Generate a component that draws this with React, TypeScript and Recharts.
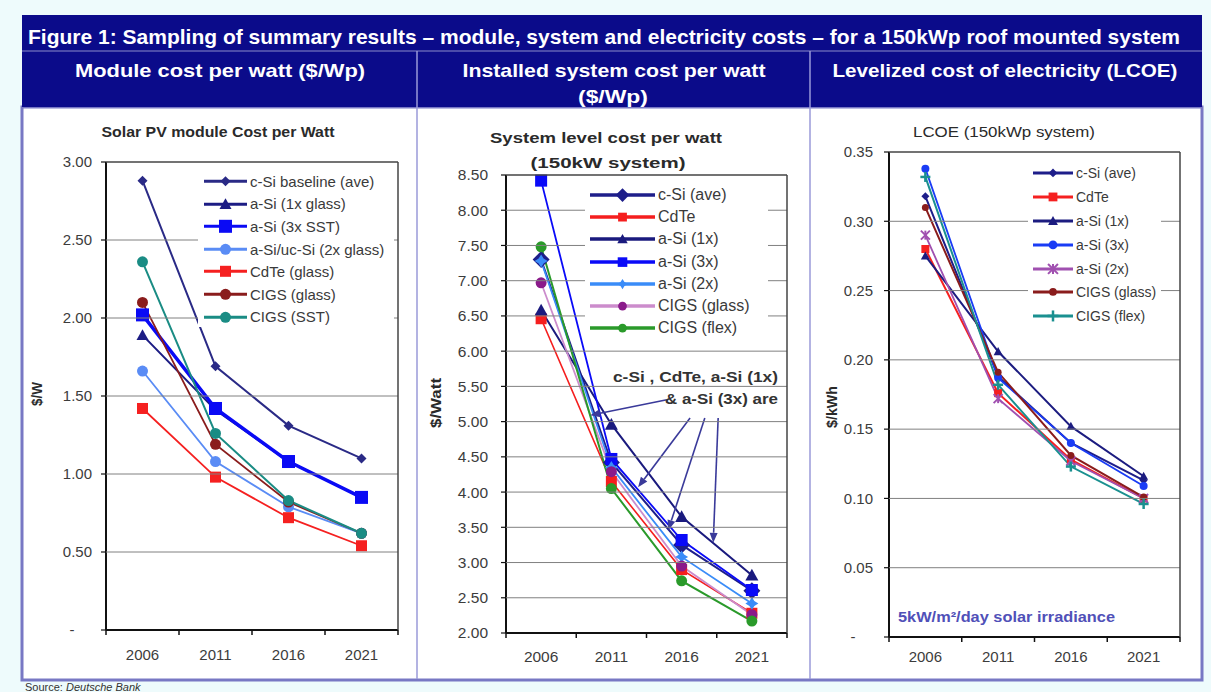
import {
  Legend,
  Line,
  LineChart,
  ReferenceLine,
  XAxis,
  YAxis,
} from 'recharts'

const years = ['2006', '2011', '2016', '2021']
// year slots sit in band centres; the half steps are the band edges
const yearSlots = [-0.5, 0, 0.5, 1, 1.5, 2, 2.5, 3, 3.5]

// Module cost per watt ($/W)
const moduleTicks = [0, 0.5, 1, 1.5, 2, 2.5, 3]
const moduleCSi = [2.88, 1.69, 1.31, 1.1]
const moduleASi1x = [1.89, 1.41, 1.08, 0.85]
const moduleASi3x = [2.02, 1.42, 1.08, 0.85]
const moduleASiUc = [1.66, 1.08, 0.79, 0.62]
const moduleCdTe = [1.42, 0.98, 0.72, 0.54]
const moduleCigsGlass = [2.1, 1.19, 0.82, 0.62]
const moduleCigsSst = [2.36, 1.26, 0.83, 0.62]

// Installed system cost per watt ($/Watt)
const systemTicks = [2, 2.5, 3, 3.5, 4, 4.5, 5, 5.5, 6, 6.5, 7, 7.5, 8, 8.5]
const systemCSi = [7.3, 4.42, 3.25, 2.6]
const systemCdTe = [6.46, 4.15, 2.9, 2.28]
const systemASi1x = [6.58, 4.96, 3.65, 2.82]
const systemASi3x = [8.42, 4.47, 3.32, 2.61]
const systemASi2x = [7.28, 4.35, 3.08, 2.42]
const systemCigsGlass = [6.97, 4.29, 2.95, 2.26]
const systemCigsFlex = [7.48, 4.05, 2.74, 2.17]

// LCOE ($/kWh)
const lcoeTicks = [0, 0.05, 0.1, 0.15, 0.2, 0.25, 0.3, 0.35]
const lcoeCSi = [0.318, 0.188, 0.14, 0.113]
const lcoeCdTe = [0.28, 0.176, 0.128, 0.1]
const lcoeASi1x = [0.275, 0.206, 0.152, 0.116]
const lcoeASi3x = [0.338, 0.187, 0.14, 0.109]
const lcoeASi2x = [0.29, 0.172, 0.127, 0.1]
const lcoeCigsGlass = [0.31, 0.191, 0.131, 0.101]
const lcoeCigsFlex = [0.332, 0.182, 0.123, 0.096]

// callout arrows in the system chart, in axis units (year slot, $/Watt)
const systemArrows = [
  { from: { x: 1.79, y: 5.31 }, to: { x: 0.7, y: 5.09 } },
  { from: { x: 2.12, y: 5.05 }, to: { x: 1.38, y: 4.07 } },
  { from: { x: 2.33, y: 5.05 }, to: { x: 1.81, y: 3.46 } },
  { from: { x: 2.52, y: 5.05 }, to: { x: 2.45, y: 3.28 } },
]

const SANS = '"Liberation Sans", Arial, sans-serif'
const NARROW = '"Liberation Sans Narrow", "Arial Narrow", "Liberation Sans", Arial, sans-serif'
const NAVY = '#0b0b8a'
const GRID = '#808080'
const FRAME = '#444'
const AXIS_W = 50
const AXIS_H = 30

type MarkerKind = 'diamond' | 'square' | 'triangle' | 'circle' | 'star' | 'asterisk' | 'plus'

type Series = {
  key: string
  name: string
  values: number[]
  color: string
  line?: string
  marker: MarkerKind
  size: number
  width: number
}

const moduleSeries: Series[] = [
  { key: 'csi', name: 'c-Si baseline (ave)', values: moduleCSi, color: '#2a2a86', marker: 'diamond', size: 10, width: 2 },
  { key: 'asi1', name: 'a-Si (1x glass)', values: moduleASi1x, color: '#1c1c84', marker: 'triangle', size: 12, width: 2 },
  { key: 'asi3', name: 'a-Si (3x SST)', values: moduleASi3x, color: '#0a0af5', marker: 'square', size: 13, width: 3.5 },
  { key: 'asiuc', name: 'a-Si/uc-Si (2x glass)', values: moduleASiUc, color: '#5a8cf5', marker: 'circle', size: 11, width: 1.8 },
  { key: 'cdte', name: 'CdTe (glass)', values: moduleCdTe, color: '#f52020', marker: 'square', size: 11, width: 1.8 },
  { key: 'cigsg', name: 'CIGS (glass)', values: moduleCigsGlass, color: '#8a1c1c', marker: 'circle', size: 11, width: 1.8 },
  { key: 'cigss', name: 'CIGS (SST)', values: moduleCigsSst, color: '#1a8c84', marker: 'circle', size: 11, width: 2 },
]

const systemSeries: Series[] = [
  { key: 'csi', name: 'c-Si (ave)', values: systemCSi, color: '#1e1e8a', marker: 'diamond', size: 17, width: 2 },
  { key: 'cdte', name: 'CdTe', values: systemCdTe, color: '#f51e1e', marker: 'square', size: 11, width: 1.6 },
  { key: 'asi1', name: 'a-Si (1x)', values: systemASi1x, color: '#1a1a7e', marker: 'triangle', size: 13, width: 2 },
  { key: 'asi3', name: 'a-Si (3x)', values: systemASi3x, color: '#0a0af8', marker: 'square', size: 12, width: 1.8 },
  { key: 'asi2', name: 'a-Si (2x)', values: systemASi2x, color: '#3a8cf8', marker: 'star', size: 13, width: 1.8 },
  { key: 'cigsg', name: 'CIGS (glass)', values: systemCigsGlass, color: '#8a1a8a', line: '#cc8ccc', marker: 'circle', size: 11, width: 1.8 },
  { key: 'cigsf', name: 'CIGS (flex)', values: systemCigsFlex, color: '#2a9a2a', marker: 'circle', size: 11, width: 2 },
]

const lcoeSeries: Series[] = [
  { key: 'csi', name: 'c-Si (ave)', values: lcoeCSi, color: '#1e1e8a', marker: 'diamond', size: 8, width: 2 },
  { key: 'cdte', name: 'CdTe', values: lcoeCdTe, color: '#f52020', marker: 'square', size: 8, width: 2 },
  { key: 'asi1', name: 'a-Si (1x)', values: lcoeASi1x, color: '#1c1c80', marker: 'triangle', size: 9, width: 2 },
  { key: 'asi3', name: 'a-Si (3x)', values: lcoeASi3x, color: '#1a3cf5', marker: 'circle', size: 8, width: 1.8 },
  { key: 'asi2', name: 'a-Si (2x)', values: lcoeASi2x, color: '#a050b0', marker: 'asterisk', size: 9, width: 1.8 },
  { key: 'cigsg', name: 'CIGS (glass)', values: lcoeCigsGlass, color: '#8a1c1c', marker: 'circle', size: 7, width: 2 },
  { key: 'cigsf', name: 'CIGS (flex)', values: lcoeCigsFlex, color: '#1a9090', marker: 'plus', size: 10, width: 2 },
]

type Layout = {
  left: number
  top: number
  width: number
  height: number
  margin: { top: number; right: number; bottom: number; left: number }
}

const moduleLayout: Layout = { left: 25, top: 110, width: 390, height: 565, margin: { top: 52, right: 17, bottom: 15, left: 31 } }
const systemLayout: Layout = { left: 420, top: 110, width: 388, height: 565, margin: { top: 65, right: 21, bottom: 12, left: 36 } }
const lcoeLayout: Layout = { left: 813, top: 110, width: 386, height: 565, margin: { top: 42, right: 19, bottom: 8, left: 26 } }

// page-space rectangle of a panel's plot area
function plotRect(l: Layout) {
  const x0 = l.left + l.margin.left + AXIS_W
  const x1 = l.left + l.width - l.margin.right
  const y0 = l.top + l.margin.top
  const y1 = l.top + l.height - l.margin.bottom - AXIS_H
  return { x0, x1, y0, y1 }
}

function Marker({ cx, cy, kind, size, color }: { cx: number; cy: number; kind: MarkerKind; size: number; color: string }) {
  if (cx == null || cy == null) return null
  const s = size / 2
  switch (kind) {
    case 'diamond':
      return <polygon points={`${cx},${cy - s} ${cx + s},${cy} ${cx},${cy + s} ${cx - s},${cy}`} fill={color} />
    case 'square':
      return <rect x={cx - s} y={cy - s} width={size} height={size} fill={color} />
    case 'triangle':
      return <polygon points={`${cx},${cy - s} ${cx + s},${cy + s * 0.8} ${cx - s},${cy + s * 0.8}`} fill={color} />
    case 'circle':
      return <circle cx={cx} cy={cy} r={s} fill={color} />
    case 'star': {
      const i = s * 0.38
      return (
        <polygon
          points={`${cx},${cy - s} ${cx + i},${cy - i} ${cx + s},${cy} ${cx + i},${cy + i} ${cx},${cy + s} ${cx - i},${cy + i} ${cx - s},${cy} ${cx - i},${cy - i}`}
          fill={color}
        />
      )
    }
    case 'asterisk':
      return (
        <g stroke={color} strokeWidth={2}>
          <line x1={cx - s} y1={cy - s} x2={cx + s} y2={cy + s} />
          <line x1={cx - s} y1={cy + s} x2={cx + s} y2={cy - s} />
          <line x1={cx} y1={cy - s} x2={cx} y2={cy + s} />
        </g>
      )
    case 'plus':
      return (
        <g stroke={color} strokeWidth={2.5}>
          <line x1={cx - s} y1={cy} x2={cx + s} y2={cy} />
          <line x1={cx} y1={cy - s} x2={cx} y2={cy + s} />
        </g>
      )
  }
  return null
}

type LegendSpec = {
  left: number
  top: number
  width: number
  height: number
  padLeft: number
  padTop: number
  rowH: number
  lineLen: number
  lineW: number
  fontSize: number
  markerScale: number
}

function LegendBox({ series, spec }: { series: Series[]; spec: LegendSpec }) {
  return (
    <div style={{ paddingLeft: spec.padLeft, paddingTop: spec.padTop, fontFamily: SANS }}>
      {series.map(s => (
        <div key={s.key} style={{ display: 'flex', alignItems: 'center', height: spec.rowH }}>
          <svg width={spec.lineLen} height={spec.rowH} style={{ flex: 'none' }}>
            <line x1={0} x2={spec.lineLen} y1={spec.rowH / 2} y2={spec.rowH / 2} stroke={s.line ?? s.color} strokeWidth={spec.lineW} />
            <Marker cx={spec.lineLen / 2} cy={spec.rowH / 2} kind={s.marker} size={s.size * spec.markerScale} color={s.color} />
          </svg>
          <span style={{ marginLeft: 3, fontSize: spec.fontSize, color: '#3a3a3a', whiteSpace: 'nowrap' }}>{s.name}</span>
        </div>
      ))}
    </div>
  )
}

function YearTick({ x, y, payload, drop, size }: any) {
  const v = payload.value as number
  if (!Number.isInteger(v)) return <g />
  return (
    <text x={x} y={y + drop} textAnchor="middle" fontSize={size} fill="#3c3c3c" fontFamily={SANS}>
      {years[v]}
    </text>
  )
}

function ValueTick({ x, y, payload, size }: any) {
  const v = payload.value as number
  const zero = v === 0
  return (
    <text
      x={zero ? x - 20 : x}
      y={y}
      dy="0.35em"
      textAnchor={zero ? 'middle' : 'end'}
      fontSize={size}
      fill="#3c3c3c"
      fontFamily={SANS}
    >
      {zero ? '-' : v.toFixed(2)}
    </text>
  )
}

// gridlines, box edges and tick marks of one panel, clear of its legend box
function PlotFrame({ layout, domain, ticks, legend }: { layout: Layout; domain: [number, number]; ticks: number[]; legend: LegendSpec }) {
  const { x0, x1, y0, y1 } = plotRect(layout)
  const [lo, hi] = domain
  const yOf = (v: number) => y1 - ((v - lo) / (hi - lo)) * (y1 - y0)
  const xOf = (v: number) => x0 + ((v + 0.5) / 4) * (x1 - x0)
  const lx0 = layout.left + legend.left
  const lx1 = lx0 + legend.width
  const ly0 = layout.top + legend.top
  const ly1 = ly0 + legend.height
  const segs = (y: number): [number, number][] =>
    y > ly0 && y < ly1 ? [[x0, Math.max(x0, lx0)], [Math.min(x1, lx1), x1]] : [[x0, x1]]
  return (
    <g>
      {ticks.slice(1, -1).map(t =>
        segs(yOf(t)).map(([a, b], k) =>
          b > a ? <line key={`g${t}-${k}`} x1={a} x2={b} y1={yOf(t)} y2={yOf(t)} stroke={GRID} strokeWidth={1} /> : null,
        ),
      )}
      <line x1={x0} x2={x1} y1={y0} y2={y0} stroke={FRAME} strokeWidth={1.5} />
      <line x1={x1} x2={x1} y1={y0} y2={y1} stroke={FRAME} strokeWidth={1.5} />
      {ticks.map(t => (
        <line key={`y${t}`} x1={x0 - 5} x2={x0} y1={yOf(t)} y2={yOf(t)} stroke="#111" strokeWidth={1.2} />
      ))}
      {yearSlots
        .filter(v => !Number.isInteger(v))
        .map(v => (
          <line key={`x${v}`} x1={xOf(v)} x2={xOf(v)} y1={y1} y2={y1 + 5} stroke="#111" strokeWidth={1.5} />
        ))}
    </g>
  )
}

function Arrow(props: any) {
  const { x1, y1, x2, y2 } = props
  if (x1 == null || x2 == null) return <g />
  const ang = Math.atan2(y2 - y1, x2 - x1)
  const len = 10
  const half = 4
  const bx = x2 - len * Math.cos(ang)
  const by = y2 - len * Math.sin(ang)
  const px = -Math.sin(ang) * half
  const py = Math.cos(ang) * half
  return (
    <g>
      <line x1={x1} y1={y1} x2={bx} y2={by} stroke="#3a3a9a" strokeWidth={1.6} />
      <polygon points={`${x2},${y2} ${bx + px},${by + py} ${bx - px},${by - py}`} fill="#3a3a9a" />
    </g>
  )
}

type PanelProps = {
  layout: Layout
  domain: [number, number]
  ticks: number[]
  tickGap: number
  tickSize: number
  labelDrop: number
  series: Series[]
  legend: LegendSpec
  children?: any
}

function Panel(p: PanelProps) {
  const data = years.map((year, i) => {
    const row: Record<string, number | string> = { x: i, year }
    p.series.forEach(s => {
      row[s.key] = s.values[i]
    })
    return row
  })
  const l = p.layout

  return (
    <div style={{ position: 'absolute', left: l.left, top: l.top }}>
      <LineChart width={l.width} height={l.height} data={data} margin={l.margin}>
        <XAxis
          dataKey="x"
          type="number"
          domain={[-0.5, 3.5]}
          ticks={yearSlots}
          interval={0}
          tickSize={0}
          tickMargin={0}
          tickLine={false}
          axisLine={{ stroke: '#111', strokeWidth: 2 }}
          height={AXIS_H}
          tick={(t: any) => <YearTick {...t} drop={p.labelDrop} size={p.tickSize} />}
        />
        <YAxis
          type="number"
          domain={p.domain}
          ticks={p.ticks}
          interval={0}
          width={AXIS_W}
          tickSize={5}
          tickMargin={p.tickGap}
          tickLine={false}
          axisLine={{ stroke: '#111', strokeWidth: 2 }}
          tick={(t: any) => <ValueTick {...t} size={p.tickSize} />}
        />
        {p.series.map(s => (
          <Line
            key={s.key}
            type="linear"
            dataKey={s.key}
            name={s.name}
            stroke={s.line ?? s.color}
            strokeWidth={s.width}
            isAnimationActive={false}
            activeDot={false}
            dot={(d: any) => (
              <Marker key={`${s.key}-${d.index}`} cx={d.cx} cy={d.cy} kind={s.marker} size={s.size} color={s.color} />
            )}
          />
        ))}
        {p.children}
        <Legend
          layout="vertical"
          align="center"
          verticalAlign="middle"
          wrapperStyle={{
            left: p.legend.left,
            top: p.legend.top,
            width: p.legend.width,
            height: p.legend.height,
            background: '#fff',
          }}
          content={() => <LegendBox series={p.series} spec={p.legend} />}
        />
      </LineChart>
    </div>
  )
}

function Label({ x, y, len, size, bold = true, fill = '#2a2a2a', rotate = false, family = SANS, children }: any) {
  return (
    <text
      x={x}
      y={y}
      textAnchor="middle"
      fontSize={size}
      fontWeight={bold ? 'bold' : 'normal'}
      fill={fill}
      fontFamily={family}
      textLength={len}
      lengthAdjust="spacingAndGlyphs"
      transform={rotate ? `rotate(-90 ${x} ${y})` : undefined}
    >
      {children}
    </text>
  )
}

const moduleLegend: LegendSpec = { left: 173, top: 60, width: 196, height: 157, padLeft: 6, padTop: 0, rowH: 22.6, lineLen: 43, lineW: 3, fontSize: 15, markerScale: 1 }
const systemLegend: LegendSpec = { left: 165, top: 73, width: 183, height: 157, padLeft: 5, padTop: 1, rowH: 22.2, lineLen: 65, lineW: 3.5, fontSize: 16, markerScale: 0.8 }
const lcoeLegend: LegendSpec = { left: 215, top: 50, width: 133, height: 172, padLeft: 5, padTop: 1, rowH: 23.9, lineLen: 40, lineW: 3, fontSize: 14, markerScale: 1.1 }

export default function App() {
  return (
    <div style={{ position: 'fixed', left: 0, top: 0, width: 1211, height: 692, overflow: 'hidden', background: '#eefbfc' }}>
      {/* frame, header band and panel backgrounds */}
      <svg width={1211} height={692} style={{ position: 'absolute', left: 0, top: 0 }}>
        <rect x={22} y={107} width={1180} height={573} fill="#fff" stroke="#7878c4" strokeWidth={3} />
        <rect x={22} y={15} width={1180} height={92} fill={NAVY} />
        <line x1={22} x2={1202} y1={51} y2={51} stroke="#6262b4" strokeWidth={1.5} />
        <line x1={417} x2={417} y1={51} y2={679} stroke="#9a9ad8" strokeWidth={1.5} />
        <line x1={810} x2={810} y1={51} y2={679} stroke="#9a9ad8" strokeWidth={1.5} />
        <Label x={604} y={44} len={1152} size={21} fill="#fff" family={NARROW}>
          Figure 1: Sampling of summary results – module, system and electricity costs – for a 150kWp roof mounted system
        </Label>
        <Label x={220} y={77} len={290} size={19} fill="#fff" family={NARROW}>
          Module cost per watt ($/Wp)
        </Label>
        <Label x={614} y={77} len={303} size={19} fill="#fff" family={NARROW}>
          Installed system cost per watt
        </Label>
        <Label x={613} y={103} len={70} size={19} fill="#fff" family={NARROW}>
          ($/Wp)
        </Label>
        <Label x={1005} y={77} len={345} size={19} fill="#fff" family={NARROW}>
          Levelized cost of electricity (LCOE)
        </Label>
        <text x={25} y={691} fontSize={11} fill="#333" fontFamily={SANS}>
          Source: <tspan fontStyle="italic">Deutsche Bank</tspan>
        </text>
      </svg>

      <Panel
        layout={moduleLayout}
        domain={[0, 3]}
        ticks={moduleTicks}
        tickGap={9}
        tickSize={15}
        labelDrop={30}
        series={moduleSeries}
        legend={moduleLegend}
      />

      <Panel
        layout={systemLayout}
        domain={[2, 8.5]}
        ticks={systemTicks}
        tickGap={13}
        tickSize={15.5}
        labelDrop={29}
        series={systemSeries}
        legend={systemLegend}
      >
        {systemArrows.map((a, i) => (
          <ReferenceLine key={`a${i}`} segment={[a.from, a.to]} shape={(sp: any) => <Arrow {...sp} />} />
        ))}
      </Panel>

      <Panel
        layout={lcoeLayout}
        domain={[0, 0.35]}
        ticks={lcoeTicks}
        tickGap={11}
        tickSize={15}
        labelDrop={25}
        series={lcoeSeries}
        legend={lcoeLegend}
      />

      {/* plot boxes, chart titles, axis titles and notes */}
      <svg width={1211} height={692} style={{ position: 'absolute', left: 0, top: 0, pointerEvents: 'none' }}>
        <PlotFrame layout={moduleLayout} domain={[0, 3]} ticks={moduleTicks} legend={moduleLegend} />
        <PlotFrame layout={systemLayout} domain={[2, 8.5]} ticks={systemTicks} legend={systemLegend} />
        <PlotFrame layout={lcoeLayout} domain={[0, 0.35]} ticks={lcoeTicks} legend={lcoeLegend} />
        <Label x={218} y={137} len={233} size={14}>
          Solar PV module Cost per Watt
        </Label>
        <Label x={606} y={143} len={232} size={15}>
          System level cost per watt
        </Label>
        <Label x={608} y={168} len={155} size={15}>
          (150kW system)
        </Label>
        <Label x={1004} y={137} len={182} size={14} bold={false}>
          LCOE (150kWp system)
        </Label>
        <Label x={42} y={394} len={24} size={14} rotate>
          $/W
        </Label>
        <Label x={441} y={403} len={50} size={14} rotate>
          $/Watt
        </Label>
        <Label x={837} y={407} len={42} size={14} rotate>
          $/kWh
        </Label>
        <text x={778} y={382} textAnchor="end" fontSize={15} fontWeight="bold" fill="#333" fontFamily={SANS} textLength={165} lengthAdjust="spacingAndGlyphs">
          c-Si , CdTe, a-Si (1x)
        </text>
        <text x={778} y={404} textAnchor="end" fontSize={15} fontWeight="bold" fill="#333" fontFamily={SANS} textLength={113} lengthAdjust="spacingAndGlyphs">
          &amp; a-Si (3x) are
        </text>
        <text x={898} y={622} fontSize={15} fontWeight="bold" fill="#5050b8" fontFamily={SANS} textLength={217} lengthAdjust="spacingAndGlyphs">
          5kW/m²/day solar irradiance
        </text>
      </svg>
    </div>
  )
}
